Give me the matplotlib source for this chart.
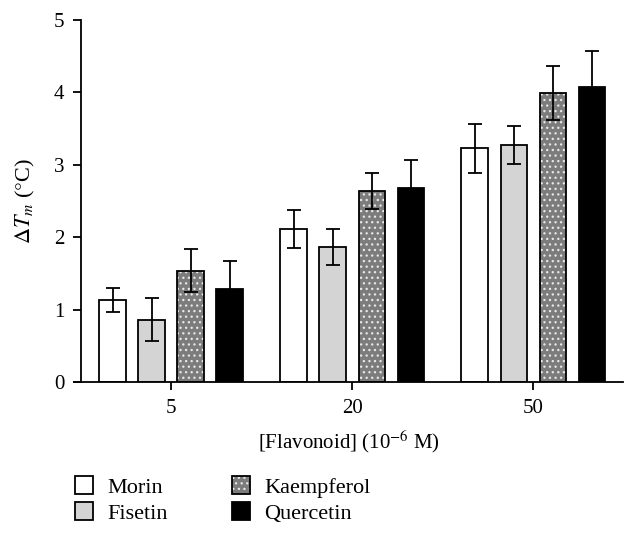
import numpy as np
import matplotlib.pyplot as plt
from matplotlib.patches import Patch
from matplotlib.legend_handler import HandlerTuple

plt.rcParams['font.family'] = ['Liberation Serif', 'DejaVu Serif']
plt.rcParams['mathtext.fontset'] = 'stix'
plt.rcParams['hatch.linewidth'] = 0.9

# data
groups = ['5', '20', '50']
series = ['Morin', 'Fisetin', 'Kaempferol', 'Quercetin']
morin = [1.13, 2.11, 3.23]
fisetin = [0.86, 1.87, 3.27]
kaempferol = [1.54, 2.64, 3.99]
quercetin = [1.28, 2.68, 4.08]
morin_err = [0.17, 0.26, 0.34]
fisetin_err = [0.30, 0.25, 0.26]
kaempferol_err = [0.30, 0.25, 0.37]
quercetin_err = [0.39, 0.38, 0.49]

values = [morin, fisetin, kaempferol, quercetin]
errors = [morin_err, fisetin_err, kaempferol_err, quercetin_err]
colors = ['white', '#d4d4d4', '#7c7c7c', 'black']

fig = plt.figure(figsize=(6.38, 5.33), dpi=100)
ax = fig.add_axes([74/638, 151/533, (623-74)/638, (513-151)/533])

x = np.arange(len(groups))
pitch = 0.2155
w = 0.144
for i in range(4):
    pos = x + (i - 1.5) * pitch
    if i == 2:
        # dotted bar: light dots on grey, then black outline on top
        ax.bar(pos, values[i], w, color=colors[i], edgecolor='#e8e8e8', hatch='...', linewidth=0, zorder=2)
        ax.bar(pos, values[i], w, facecolor='none', edgecolor='black', linewidth=1.3, zorder=3)
    else:
        ax.bar(pos, values[i], w, color=colors[i], edgecolor='black', linewidth=1.3, zorder=2)
    ax.errorbar(pos, values[i], yerr=errors[i], fmt='none', ecolor='black', elinewidth=1.3,
                capsize=4.7, capthick=1.3, zorder=4)

ax.set_xlim(-0.536, 2.497)
ax.set_ylim(0, 5)
ax.set_xticks(x)
ax.set_xticklabels(groups)
ax.set_yticks([0, 1, 2, 3, 4, 5])
ax.spines['top'].set_visible(False)
ax.spines['right'].set_visible(False)
ax.spines['left'].set_position(('data', -0.497))
ax.spines['left'].set_linewidth(1.3)
ax.spines['bottom'].set_linewidth(1.3)
ax.tick_params(axis='both', direction='out', length=6, width=1.3, labelsize=15, pad=6)

ax.set_ylabel(r'$\Delta T_m$ ($\degree$C)', fontsize=16, labelpad=12)
ax.set_xlabel(r'[Flavonoid] (10$^{-6}$ M)', fontsize=15, labelpad=8)

handles = [
    Patch(facecolor='white', edgecolor='black', linewidth=1.3),
    Patch(facecolor='#d4d4d4', edgecolor='black', linewidth=1.3),
    (Patch(facecolor='#7c7c7c', edgecolor='#e8e8e8', hatch='...', linewidth=0),
     Patch(facecolor='none', edgecolor='black', linewidth=1.3)),
    Patch(facecolor='black', edgecolor='black', linewidth=1.3),
]
fig.legend(handles, series, ncol=2, loc='upper left', bbox_to_anchor=(64/638, 1 - 465/533),
           frameon=False, fontsize=16, handlelength=0.8, handleheight=0.85, handletextpad=0.65,
           columnspacing=2.9, labelspacing=0.2, borderpad=0,
           handler_map={tuple: HandlerTuple(ndivide=1, pad=0)})

fig.savefig('out.png', dpi=100)
